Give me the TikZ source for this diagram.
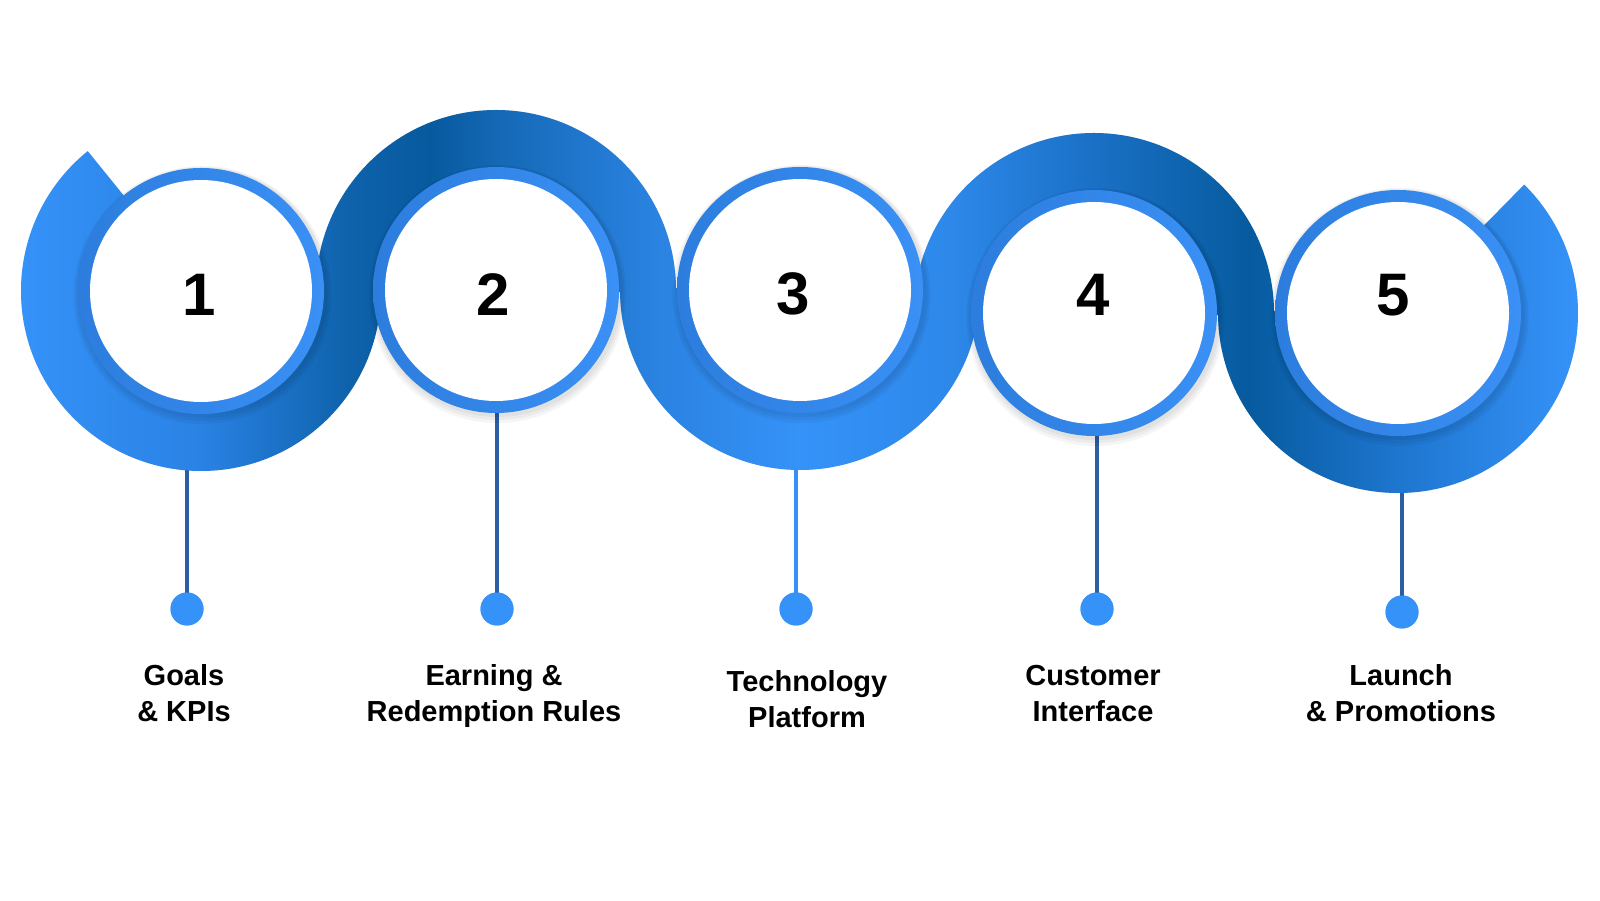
\documentclass[tikz,border=0pt]{standalone}
\usepackage{fontspec}
\setmainfont{Liberation Sans}
\usetikzlibrary{calc}
\definecolor{g00}{HTML}{3592F8}
\definecolor{g01}{HTML}{2A82E4}
\definecolor{g02}{HTML}{0E62AB}
\definecolor{g03}{HTML}{075A9E}
\definecolor{g04}{HTML}{1468B5}
\definecolor{g05}{HTML}{2A82E0}
\definecolor{g06}{HTML}{3592F8}
\definecolor{g07}{HTML}{2D88EA}
\definecolor{g08}{HTML}{1A70C5}
\definecolor{g09}{HTML}{065B9F}
\definecolor{g10}{HTML}{1E76CF}
\definecolor{g11}{HTML}{3592F8}
\definecolor{rimL}{HTML}{2C7DDD}\definecolor{rimR}{HTML}{3A90F5}
\definecolor{stemdark}{HTML}{2B5EA5}\definecolor{stemlight}{HTML}{3590F5}
\definecolor{dotblue}{HTML}{3592F8}
\pgfdeclarehorizontalshading{bandgrad}{100bp}{color(0bp)=(g00); color(25.66bp)=(g00); color(31.25bp)=(g01); color(35.94bp)=(g02); color(38.44bp)=(g03); color(40.5bp)=(g04); color(45.31bp)=(g05); color(50bp)=(g06); color(54.69bp)=(g07); color(59.19bp)=(g08); color(64.06bp)=(g09); color(68.69bp)=(g10); color(74.31bp)=(g11); color(100bp)=(g11)}
\newcommand\bandOne{($(c1)+(129:180)$) arc[start angle=129,end angle=361,radius=180] -- ($(c1)+(1:118)$) arc[start angle=361,end angle=129,radius=118] -- cycle}
\newcommand\bandTwo{($(c2)+(181:180)$) arc[start angle=181,end angle=-1,radius=180] -- ($(c2)+(-1:118)$) arc[start angle=-1,end angle=181,radius=118] -- cycle}
\newcommand\bandThree{($(c3)+(179:180)$) arc[start angle=179,end angle=361,radius=180] -- ($(c3)+(1:118)$) arc[start angle=361,end angle=179,radius=118] -- cycle}
\newcommand\bandFour{($(c4)+(181:180)$) arc[start angle=181,end angle=-1,radius=180] -- ($(c4)+(-1:118)$) arc[start angle=-1,end angle=181,radius=118] -- cycle}
\newcommand\bandFive{($(c5)+(179:180)$) arc[start angle=179,end angle=405.5,radius=180] -- ($(c5)+(45.5:118)$) arc[start angle=405.5,end angle=179,radius=118] -- cycle}
\begin{document}
\begin{tikzpicture}[x=1pt,y=1pt,
  bandshadow/.style={fill=black,opacity=0.045},
  rimshadow/.style={fill=black,opacity=0.04},
  rimstyle/.style={left color=rimL,right color=rimR},
  stemline/.style={line width=3.5pt,draw=stemdark},
  stemlinelight/.style={line width=3.5pt,draw=stemlight},
  dotnode/.style={circle,fill=dotblue,minimum size=33pt,inner sep=0pt},
  numnode/.style={inner sep=0pt,font=\fontsize{60}{60}\selectfont\bfseries,text=black},
  labnode/.style={inner sep=0pt,align=center,anchor=base,font=\fontsize{29}{36}\selectfont\bfseries,text=black}]
\useasboundingbox (0,0) rectangle (1600,900);
\fill[white] (0,0) rectangle (1600,900);
% ring centres
\coordinate (c1) at (201,609);
\coordinate (c2) at (496,610);
\coordinate (c3) at (800,610);
\coordinate (c4) at (1094,587);
\coordinate (c5) at (1398,587);
% stem tops (hidden behind the rings)
\coordinate (s1) at (187,460);
\coordinate (s2) at (497,500);
\coordinate (s3) at (796,460);
\coordinate (s4) at (1097,480);
\coordinate (s5) at (1402,440);
\node[dotnode] (d1) at (187,291) {};
\node[dotnode] (d2) at (497,291) {};
\node[dotnode] (d3) at (796,291) {};
\node[dotnode] (d4) at (1097,291) {};
\node[dotnode] (d5) at (1402,288) {};
\draw[stemline] (s1) -- (d1.center);
\draw[stemline] (s2) -- (d2.center);
\draw[stemlinelight] (s3) -- (d3.center);
\draw[stemline] (s4) -- (d4.center);
\draw[stemline] (s5) -- (d5.center);
\fill[dotblue] (d1) circle[radius=16.5];
\fill[dotblue] (d2) circle[radius=16.5];
\fill[dotblue] (d3) circle[radius=16.5];
\fill[dotblue] (d4) circle[radius=16.5];
\fill[dotblue] (d5) circle[radius=16.5];
% band shadows
\foreach \dx/\dy in {1/-2,2/-4,3/-6}{
  \begin{scope}[xshift=\dx,yshift=\dy]
  \fill[bandshadow] \bandOne; \fill[bandshadow] \bandTwo; \fill[bandshadow] \bandThree;
  \fill[bandshadow] \bandFour; \fill[bandshadow] \bandFive;
  \end{scope}}
% bands: one gradient across the picture, clipped to each band
\begin{scope}\clip \bandOne; \shade[shading=bandgrad] (0,0) rectangle (1600,900);\end{scope}
\begin{scope}\clip \bandTwo; \shade[shading=bandgrad] (0,0) rectangle (1600,900);\end{scope}
\begin{scope}\clip \bandThree; \shade[shading=bandgrad] (0,0) rectangle (1600,900);\end{scope}
\begin{scope}\clip \bandFour; \shade[shading=bandgrad] (0,0) rectangle (1600,900);\end{scope}
\begin{scope}\clip \bandFive; \shade[shading=bandgrad] (0,0) rectangle (1600,900);\end{scope}
% rims and white discs
\foreach \c in {c1,c2,c3,c4,c5}{
  \foreach \r/\dy in {125/-2,127/-3,129/-4}{\fill[rimshadow] ($(\c)+(1.5,\dy)$) circle[radius=\r];}
  \shade[rimstyle] (\c) circle[radius=123];
  \fill[white] (\c) circle[radius=111];
}
% numbers
\node[numnode] (n1) at (199,605) {1};
\node[numnode] (n2) at (493,605) {2};
\node[numnode] (n3) at (793,606) {3};
\node[numnode] (n4) at (1093,605) {4};
\node[numnode] (n5) at (1393,605) {5};
% labels (base = baseline of the last line)
\node[labnode] (l1) at (184,179) {Goals\\ \& KPIs};
\node[labnode] (l2) at (494,179) {Earning \&\\ Redemption Rules};
\node[labnode] (l3) at (807,173) {Technology\\ Platform};
\node[labnode] (l4) at (1093,179) {Customer\\ Interface};
\node[labnode] (l5) at (1401,179) {Launch\\ \& Promotions};
\end{tikzpicture}
\end{document}
